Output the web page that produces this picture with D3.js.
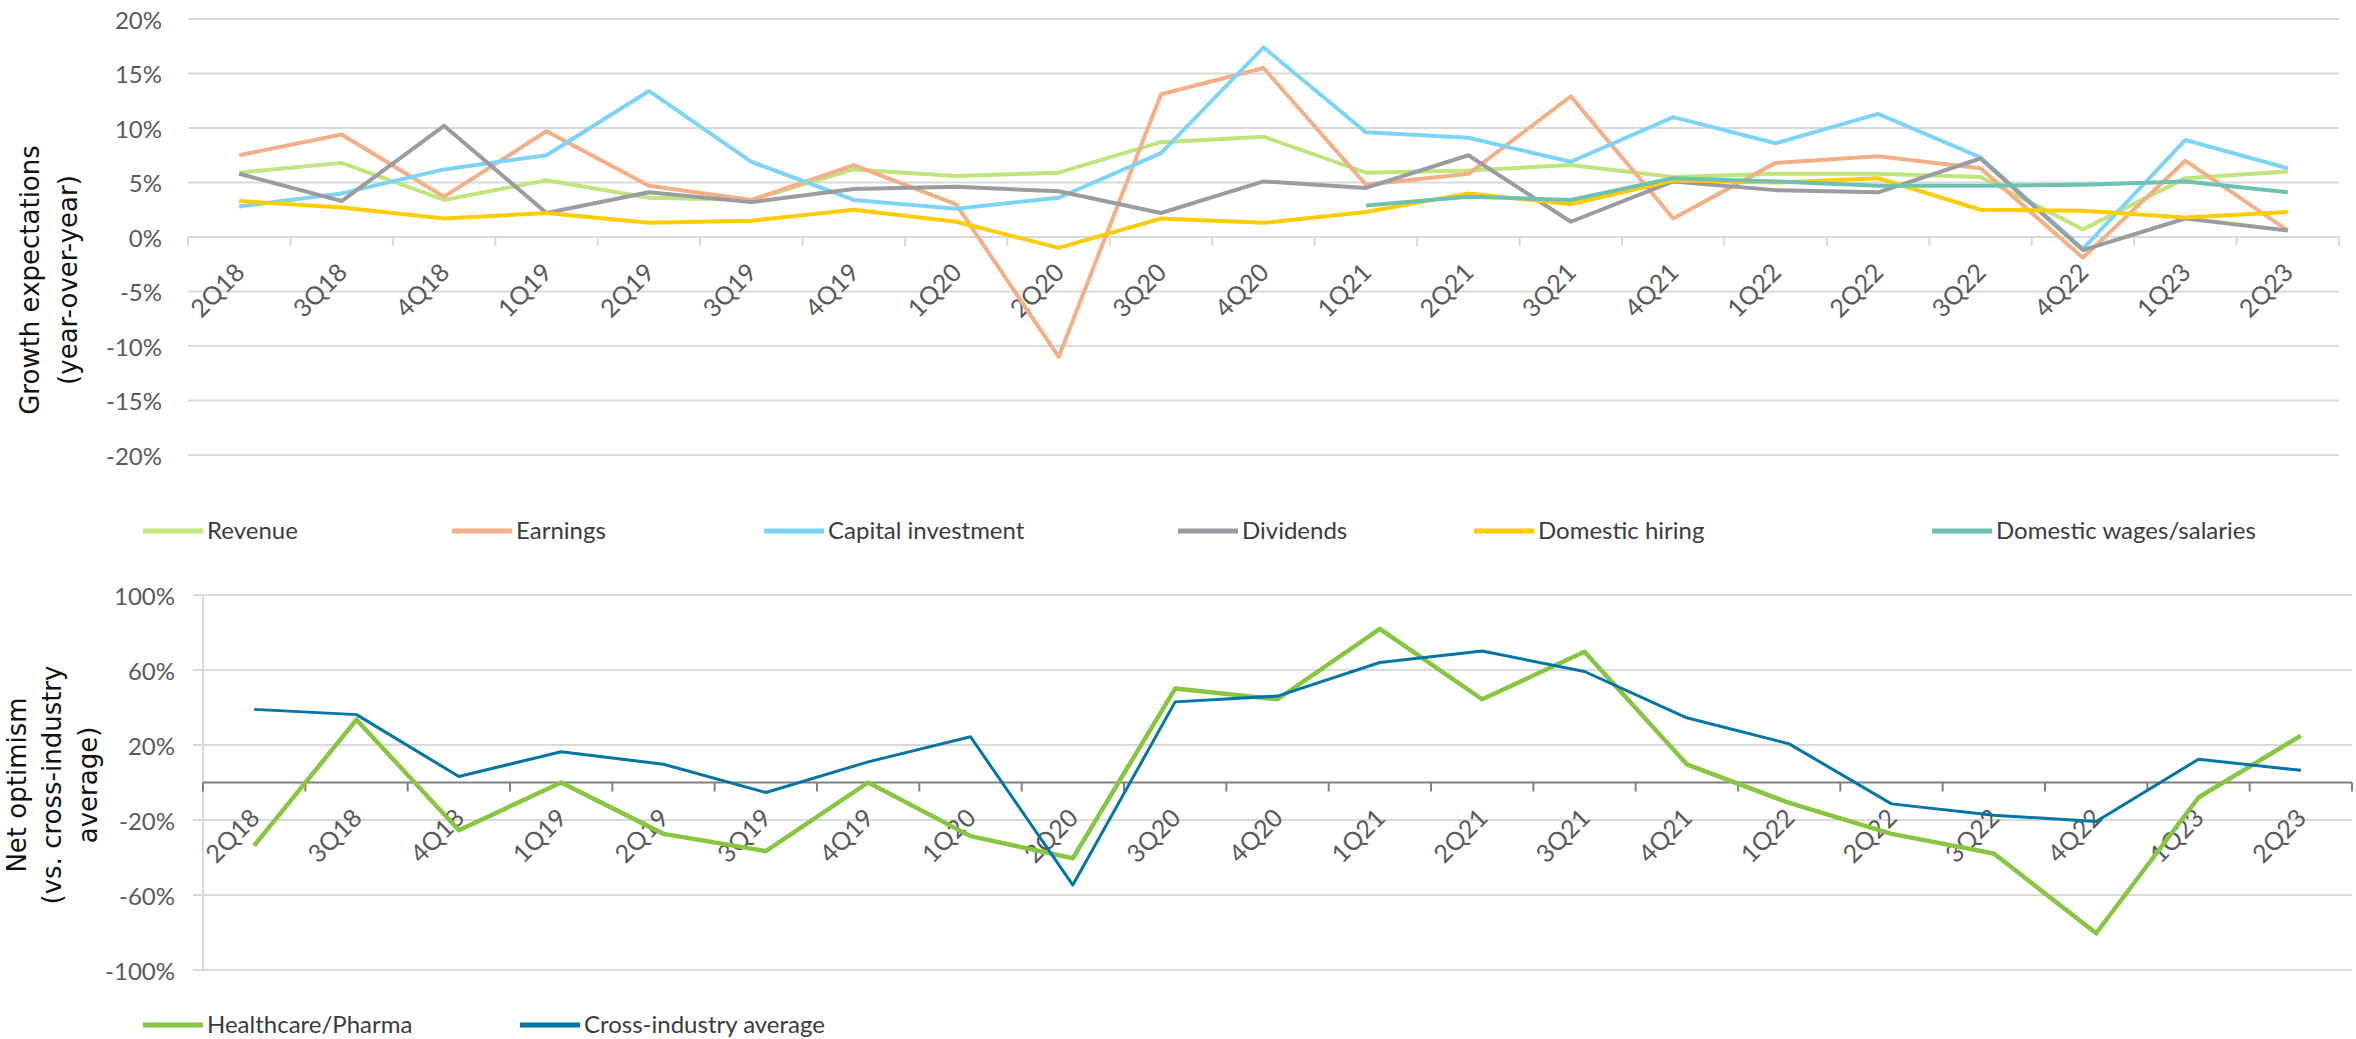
<!DOCTYPE html>
<html>
<head>
<meta charset="utf-8">
<script src="https://cdn.jsdelivr.net/npm/d3@7/dist/d3.min.js"></script>
<style>
  body { margin: 0; background: #fff; }
  svg { display: block; }
  .tick-label { font-family: Lato, sans-serif; font-size: 24px; fill: #595959; }
  .legend-label { font-family: Lato, sans-serif; font-size: 24px; fill: #3b3b3b; }
  .axis-title { font-family: 'DejaVu Sans', Verdana, sans-serif; font-size: 26px; fill: #111; }
</style>
</head>
<body>
<svg width="2356" height="1039"></svg>
<script>
const quarters = ['2Q18', '3Q18', '4Q18', '1Q19', '2Q19', '3Q19', '4Q19', '1Q20', '2Q20', '3Q20', '4Q20',
  '1Q21', '2Q21', '3Q21', '4Q21', '1Q22', '2Q22', '3Q22', '4Q22', '1Q23', '2Q23'];

// growth expectations, % year-over-year
const revenue = [5.9, 6.8, 3.4, 5.2, 3.6, 3.4, 6.2, 5.6, 5.9, 8.7, 9.2, 5.9, 6.1, 6.6, 5.5, 5.8, 5.8, 5.5, 0.7, 5.4, 6.0];
const earnings = [7.5, 9.4, 3.7, 9.7, 4.7, 3.4, 6.6, 3.0, -11.0, 13.1, 15.5, 4.8, 5.8, 12.9, 1.7, 6.8, 7.4, 6.3, -1.9, 7.0, 0.6];
const capitalInvestment = [2.8, 4.0, 6.2, 7.5, 13.4, 6.9, 3.4, 2.6, 3.6, 7.7, 17.4, 9.6, 9.1, 6.9, 11.0, 8.6, 11.3, 7.3, -1.1, 8.9, 6.3];
const dividends = [5.8, 3.3, 10.2, 2.2, 4.1, 3.2, 4.4, 4.6, 4.2, 2.2, 5.1, 4.5, 7.5, 1.4, 5.1, 4.3, 4.1, 7.2, -1.2, 1.7, 0.6];
const domesticHiring = [3.3, 2.7, 1.7, 2.2, 1.3, 1.5, 2.5, 1.4, -1.0, 1.7, 1.3, 2.3, 4.0, 3.0, 5.2, 5.0, 5.4, 2.5, 2.4, 1.8, 2.3];
const domesticWages = [null, null, null, null, null, null, null, null, null, null, null,
  2.9, 3.7, 3.4, 5.4, 5.1, 4.7, 4.7, 4.8, 5.1, 4.1];

// net optimism vs. cross-industry average, %
const healthcarePharma = [-33.7, 33.5, -25.5, 0, -27.4, -36.6, 0, -28.6, -40.4, 50.1, 44.4, 81.9, 44.4, 69.7, 9.7, -10.9, -27.4, -37.9, -80.4, -8.0, 25.0];
const crossIndustry = [39.0, 36.2, 3.2, 16.4, 9.7, -5.3, 11.0, 24.4, -54.7, 43.0, 46.1, 64.0, 70.1, 59.2, 34.5, 20.6, -11.4, -17.5, -20.8, 12.4, 6.5];

const topTicks = [20, 15, 10, 5, 0, -5, -10, -15, -20];
const bottomTicks = [100, 60, 20, -20, -60, -100];

const topSeries = [
  { name: 'Revenue', values: revenue, color: '#bfe57c' },
  { name: 'Earnings', values: earnings, color: '#f4af86' },
  { name: 'Capital investment', values: capitalInvestment, color: '#7dd4f8' },
  { name: 'Dividends', values: dividends, color: '#9b9ca1' },
  { name: 'Domestic hiring', values: domesticHiring, color: '#ffcc00' },
  { name: 'Domestic wages/salaries', values: domesticWages, color: '#6dc1b1' },
];
const bottomSeries = [
  { name: 'Healthcare/Pharma', values: healthcarePharma, color: '#86c640', width: 4.5 },
  { name: 'Cross-industry average', values: crossIndustry, color: '#0275a7', width: 3 },
];

const svg = d3.select('svg');

function drawPanel(cfg) {
  const g = svg.append('g');
  const x = d3.scaleBand().domain(quarters).range([cfg.left, cfg.right]);
  const y = d3.scaleLinear().domain([cfg.min, cfg.max]).range([cfg.bottom, cfg.top]);
  const cx = q => x(q) + x.bandwidth() / 2;

  g.append('g').selectAll('line')
    .data(cfg.ticks.filter(t => t !== 0))
    .enter().append('line')
      .attr('x1', cfg.left - cfg.gridOut).attr('x2', cfg.right)
      .attr('y1', d => y(d)).attr('y2', d => y(d))
      .attr('stroke', '#d9d9d9').attr('stroke-width', 2);

  g.append('g').selectAll('text')
    .data(cfg.ticks)
    .enter().append('text')
      .attr('class', 'tick-label')
      .attr('x', cfg.labelX).attr('y', d => y(d))
      .attr('text-anchor', 'end').attr('dominant-baseline', 'central')
      .text(d => `${d}%`);

  if (cfg.vAxis) {
    g.append('line')
      .attr('x1', cfg.left).attr('x2', cfg.left)
      .attr('y1', y(cfg.max)).attr('y2', y(cfg.min))
      .attr('stroke', '#d9d9d9').attr('stroke-width', 2);
  }

  const y0 = y(0);
  const bounds = quarters.map(q => x(q)).concat([cfg.right]);
  g.append('line')
    .attr('x1', cfg.left).attr('x2', cfg.right)
    .attr('y1', y0).attr('y2', y0)
    .attr('stroke', cfg.zeroColor).attr('stroke-width', 2);
  g.append('g').selectAll('line')
    .data(bounds)
    .enter().append('line')
      .attr('x1', d => d).attr('x2', d => d)
      .attr('y1', y0).attr('y2', y0 + 9)
      .attr('stroke', cfg.zeroColor).attr('stroke-width', 2);

  g.append('g').selectAll('text')
    .data(quarters)
    .enter().append('text')
      .attr('class', 'tick-label')
      .style('font-size', '25px')
      .attr('text-anchor', 'end')
      .attr('transform', d => `translate(${cx(d) + 7},${y0 + 37}) rotate(-45)`)
      .text(d => d);

  const line = d3.line()
    .defined(d => d != null)
    .x((d, i) => cx(quarters[i]))
    .y(d => y(d));

  g.append('g').selectAll('path')
    .data(cfg.series)
    .enter().append('path')
      .attr('d', d => line(d.values))
      .attr('fill', 'none')
      .attr('stroke', d => d.color)
      .attr('stroke-width', d => d.width || 4)
      .attr('stroke-linejoin', 'round');

  const title = g.append('text')
    .attr('class', 'axis-title')
    .attr('text-anchor', 'middle')
    .attr('transform', `translate(0,${cfg.titleY}) rotate(-90)`);
  cfg.title.forEach((t, i) => {
    title.append('tspan')
      .attr('x', 0).attr('y', cfg.titleX[i])
      .attr('dominant-baseline', 'central')
      .text(t);
  });

  const legend = g.append('g').selectAll('g')
    .data(cfg.series)
    .enter().append('g')
      .attr('transform', (d, i) => `translate(${cfg.legendX[i]},${cfg.legendY})`);
  legend.append('line')
    .attr('x1', 0).attr('x2', 60)
    .attr('stroke', d => d.color).attr('stroke-width', 5);
  legend.append('text')
    .attr('class', 'legend-label')
    .attr('x', 64).attr('y', -2)
    .attr('dominant-baseline', 'central')
    .text(d => d.name);
}

drawPanel({
  left: 188, right: 2339, top: 19, bottom: 455, min: -20, max: 20,
  ticks: topTicks, gridOut: 0, labelX: 162, vAxis: false, zeroColor: '#d9d9d9',
  series: topSeries,
  title: ['Growth expectations', '(year-over-year)'], titleX: [30, 68], titleY: 280,
  legendX: [143, 452, 764, 1178, 1474, 1932], legendY: 531,
});

drawPanel({
  left: 203, right: 2352, top: 595, bottom: 970, min: -100, max: 100,
  ticks: bottomTicks, gridOut: 10, labelX: 175, vAxis: true, zeroColor: '#808080',
  series: bottomSeries,
  title: ['Net optimism', '(vs. cross-industry', 'average)'], titleX: [17, 52, 88], titleY: 785,
  legendX: [143, 520], legendY: 1025,
});
</script>
</body>
</html>
